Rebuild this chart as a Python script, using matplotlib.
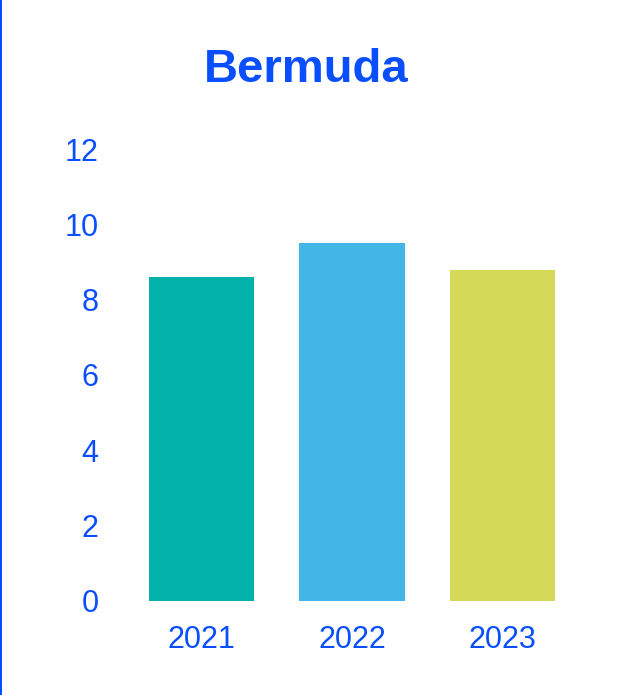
import matplotlib.pyplot as plt
from matplotlib.patches import Rectangle

# data
years = ["2021", "2022", "2023"]
values = [8.6, 9.5, 8.8]
colors = ["#02b2ab", "#43b5e6", "#d4d957"]
yticks = [0, 2, 4, 6, 8, 10, 12]

blue = "#0a4fff"
plt.rcParams['font.family'] = ['Liberation Sans', 'DejaVu Sans']

fig = plt.figure(figsize=(6.17, 6.95), dpi=100)
ax = fig.add_axes([0.205, 0.1353, 0.731, 0.6503])

x = range(len(years))
ax.bar(x, values, width=0.7, color=colors)

ax.set_xlim(-0.5, 2.5)
ax.set_ylim(0, 12)
ax.set_xticks(list(x))
ax.set_xticklabels(years)
ax.set_yticks(yticks)
ax.tick_params(axis='both', length=0, labelsize=22, labelcolor=blue)
ax.tick_params(axis='x', pad=17)
ax.tick_params(axis='y', pad=20)
for s in ax.spines.values():
    s.set_visible(False)

fig.text(0.496, 0.9, "Bermuda", ha='center', va='center',
         fontsize=34, fontweight='bold', color=blue)

# left border line
fig.patches.append(Rectangle((0, 0), 1.6 / 617, 1, transform=fig.transFigure,
                             color=blue, lw=0, zorder=10))

fig.savefig("out.png", dpi=100)
